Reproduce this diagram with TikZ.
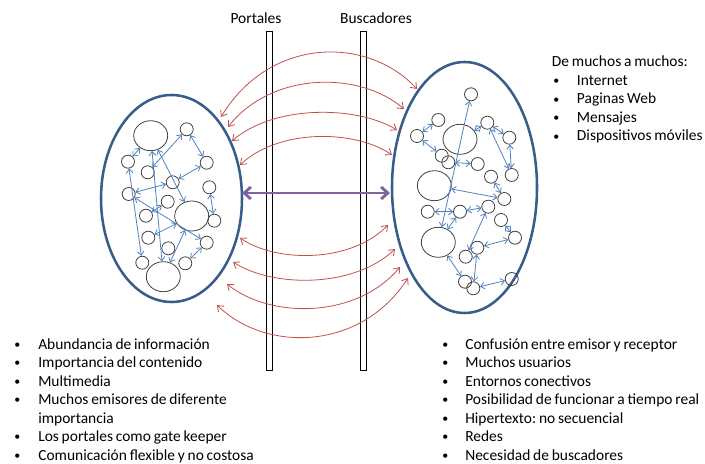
\documentclass[tikz,border=0pt]{standalone}
\usepackage{fontspec}
\setmainfont{Carlito}[WordSpace=0.8]
\usetikzlibrary{arrows.meta,shapes.geometric}
\definecolor{gris}{HTML}{404040}
\definecolor{azulborde}{HTML}{385D8A}
\definecolor{azulclaro}{HTML}{4F81BD}
\definecolor{rojo}{HTML}{C0504D}
\definecolor{morado}{HTML}{8064A2}
\newcommand{\vineta}{\raisebox{0.6pt}{\fontsize{9}{9}\selectfont\textbullet}}
\frenchspacing

\begin{document}
\begin{tikzpicture}[x=0.75pt,y=-0.75pt,
    circulo/.style={circle,draw=gris,line width=0.6pt,minimum size=9.75pt,inner sep=0pt},
    grande/.style={ellipse,draw=gris,line width=0.6pt,minimum width=25.5pt,minimum height=22.5pt,inner sep=0pt},
    flecha/.style={azulclaro,line width=0.6pt,{Straight Barb[length=3pt,width=5pt]}-{Straight Barb[length=3pt,width=5pt]}},
    arco/.style={rojo,line width=0.6pt,{Straight Barb[length=4pt,width=6pt]}-{Straight Barb[length=4pt,width=6pt]}},
    barra/.style={draw,line width=0.5pt,minimum width=4.5pt,minimum height=254.25pt,inner sep=0pt},
    texto/.style={anchor=base west,inner sep=0pt,font=\fontsize{11.6}{13.9}\selectfont\frenchspacing}]
    \useasboundingbox (0,0) rectangle (705,463);

    % las dos redes
    \node[ellipse,draw=azulborde,line width=1.9pt,minimum width=105.75pt,minimum height=155.25pt,inner sep=0pt] (redizq) at (171.5,198.5) {};
    \node[ellipse,draw=azulborde,line width=1.9pt,minimum width=108.75pt,minimum height=188.25pt,inner sep=0pt] (redder) at (464.5,187.5) {};

    % nodos de la izquierda
    \node[grande] (la) at (150.7,135.7) {};
    \node[grande] (lb) at (191.7,216) {};
    \node[grande] (lc) at (163.3,276.7) {};
    \node[circulo] (l1) at (186.7,129.3) {};
    \node[circulo] (l2) at (128,161.7) {};
    \node[circulo] (l3) at (147.7,172.3) {};
    \node[circulo] (l4) at (206.7,162.7) {};
    \node[circulo] (l5) at (172.7,182.3) {};
    \node[circulo] (l6) at (128.7,194) {};
    \node[circulo] (l7) at (209.3,187.3) {};
    \node[circulo] (l8) at (167.7,201.7) {};
    \node[circulo] (l9) at (146,215.7) {};
    \node[circulo] (l10) at (214.3,220.7) {};
    \node[circulo] (l11) at (148.3,237.7) {};
    \node[circulo] (l12) at (206.7,242.7) {};
    \node[circulo] (l13) at (168.3,248.3) {};
    \node[circulo] (l14) at (142.3,262.7) {};
    \node[circulo] (l15) at (185.3,263.3) {};
    \foreach \a/\b in {la/lc, l2/l14, l2/la, l3/l1, l1/l4, la/lb, l5/l4, l6/l5,
        l8/l9, l6/l12, l11/lb, l7/l10, lb/lc, l12/l15}
        \draw[flecha] (\a) -- (\b);

    % nodos de la derecha
    \node[grande] (rd) at (460,139.3) {};
    \node[grande] (re) at (434.3,185.7) {};
    \node[grande] (rf) at (438.3,242.3) {};
    \node[circulo] (r1) at (471,94.3) {};
    \node[circulo] (r2) at (438.3,120) {};
    \node[circulo] (r3) at (487.3,122.7) {};
    \node[circulo] (r4) at (417,136) {};
    \node[circulo] (r5) at (509.3,137.7) {};
    \node[circulo] (r6) at (441.7,155.7) {};
    \node[circulo] (r7) at (448.3,162.3) {};
    \node[circulo] (r8) at (477.7,164) {};
    \node[circulo] (r9) at (491,176.7) {};
    \node[circulo] (r10) at (511.7,175) {};
    \node[circulo] (r11) at (504.3,199) {};
    \node[circulo] (r12) at (488.3,206.7) {};
    \node[circulo] (r13) at (427.7,211.7) {};
    \node[circulo] (r14) at (460,211.7) {};
    \node[circulo] (r15) at (501,220) {};
    \node[circulo] (r16) at (515,237.7) {};
    \node[circulo] (r17) at (477.3,247.7) {};
    \node[circulo] (r18) at (465.7,256.7) {};
    \node[circulo] (r19) at (465,281.7) {};
    \node[circulo] (r20) at (473.3,288.3) {};
    \node[circulo] (r21) at (511.7,279) {};
    \foreach \a/\b in {r1/rf, r2/r4, r4/r6, rd/r3, r3/r5, r3/r10, r5/r10, r7/r8,
        re/r11, r14/r12, r9/r11, r13/r14, r14/rf, r12/r18, r15/r16, r17/r16,
        rf/r19, r17/r20, r20/r21}
        \draw[flecha] (\a) -- (\b);

    % barreras
    \node[barra] (portales) at (269,200.5) {};
    \node[barra] (buscadores) at (363.5,200.5) {};
    \node[texto,anchor=base] (tportales) at (256,24) {Portales};
    \node[texto,anchor=base] (tbuscadores) at (376,24) {Buscadores};

    % arcos rojos
    \foreach \xa/\ya/\xb/\yb/\c [count=\i] in {417/89/221/117/36, 404/109/228/127/71,
        397/130/232/141/105, 392/155/240/165/129, 240/238/388/225/263,
        233/262/395/249/288, 227/284/400/267/319, 217/305/408/278/352}{
        \coordinate (ini\i) at (\xa,\ya);
        \coordinate (fin\i) at (\xb,\yb);
        \draw[arco] (ini\i) .. controls ({\xa+0.25*(\xb-\xa)},\c) and ({\xb-0.25*(\xb-\xa)},\c) .. (fin\i);
    }

    % flecha morada
    \coordinate (pizq) at (242,193);
    \coordinate (pder) at (390,193);
    \draw[morado,line width=2.2pt,{Straight Barb[length=5pt,width=9pt]}-{Straight Barb[length=5pt,width=9pt]}] (pizq) -- (pder);

    % listas
    \node[texto] (muchos) at (551.7,67) {De muchos a muchos:};
    \foreach \t [count=\i] in {Internet, Paginas Web, Mensajes, Dispositivos móviles}{
        \node[texto] (pm\i) at (553,{67+18.5*\i}) {\vineta};
        \node[texto] (m\i) at (576.7,{67+18.5*\i}) {\t};
    }
    \foreach \r/\t in {0/Abundancia de información, 1/Importancia del contenido,
        2/Multimedia, 3/Muchos emisores de diferente, 5/Los portales como gate keeper,
        6/Comunicación flexible y no costosa}{
        \node[texto] (pi\r) at (14,{349+18.5*\r}) {\vineta};
        \node[texto] (i\r) at (38,{349+18.5*\r}) {\t};
    }
    \node[texto] (i4) at (38,423) {importancia};
    \foreach \t [count=\r] in {Confusión entre emisor y receptor, Muchos usuarios,
        Entornos conectivos, Posibilidad de funcionar a tiempo real,
        Hipertexto: no secuencial, Redes, Necesidad de buscadores}{
        \node[texto] (pd\r) at (442,{349+18.5*(\r-1)}) {\vineta};
        \node[texto] (d\r) at (465,{349+18.5*(\r-1)}) {\t};
    }
\end{tikzpicture}
\end{document}
